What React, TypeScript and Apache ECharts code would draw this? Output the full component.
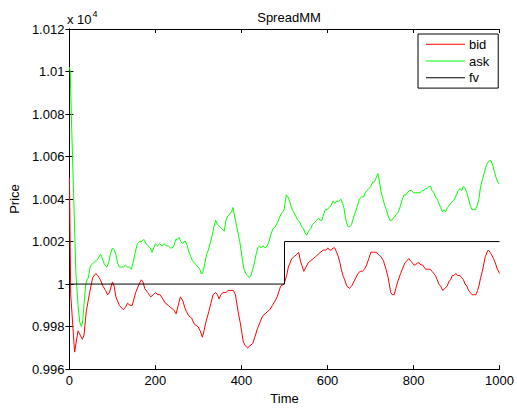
import React, { useEffect, useRef } from "react";
import * as echarts from "echarts";

// Values are prices (the axis shows them scaled by 10^4)
const bidTime = [0, 3, 12, 20, 25, 30, 34, 39, 47, 54, 61, 66, 72, 78, 84, 89, 93, 100, 104, 108, 116, 125, 130, 135, 141, 146, 154, 162, 167, 171, 175, 182, 189, 195, 200, 206, 211, 217, 223, 230, 235, 242, 248, 253, 258, 264, 268, 272, 278, 284, 291, 299, 304, 309, 313, 317, 324, 329, 334, 340, 344, 348, 352, 357, 364, 369, 374, 381, 386, 389, 393, 397, 401, 404, 409, 414, 420, 426, 431, 437, 443, 449, 455, 460, 466, 472, 478, 483, 491, 499, 505, 509, 517, 523, 529, 533, 537, 540, 545, 550, 555, 561, 567, 573, 578, 584, 590, 596, 601, 605, 609, 613, 617, 621, 625, 629, 632, 636, 640, 645, 651, 656, 661, 666, 671, 676, 681, 686, 691, 696, 701, 707, 713, 718, 724, 730, 736, 741, 747, 751, 755, 759, 763, 770, 776, 780, 785, 789, 793, 797, 801, 805, 809, 813, 817, 821, 828, 834, 839, 843, 847, 851, 855, 859, 863, 868, 873, 878, 882, 886, 890, 894, 898, 903, 908, 912, 916, 920, 924, 928, 932, 936, 940, 945, 949, 952, 956, 960, 964, 967, 971, 974, 978, 981, 986, 990, 995, 1000];
const bidPrice = [10050, 9995, 9968, 9978, 9976, 9974, 9976, 9987, 9996, 10003, 10005, 10004, 10002, 9999, 9997, 9995, 9996, 10001, 9999, 9994, 9990, 9988, 9989, 9991, 9990, 9990, 9996, 10000, 10002, 10001, 9998, 9996, 9994, 9995, 9996, 9995, 9995, 9993, 9991, 9990, 9989, 9988, 9986, 9990, 9994, 9992, 9989, 9987, 9985, 9984, 9981, 9980, 9978, 9975, 9978, 9982, 9987, 9991, 9995, 9996, 9995, 9993, 9995, 9996, 9996, 9997, 9997, 9997, 9995, 9991, 9986, 9982, 9977, 9973, 9971, 9970, 9971, 9972, 9975, 9979, 9982, 9985, 9986, 9987, 9988, 9990, 9992, 9994, 9999, 10000, 10004, 10008, 10012, 10013, 10014, 10015, 10011, 10009, 10006, 10008, 10010, 10011, 10012, 10013, 10014, 10015, 10016, 10016, 10017, 10016, 10016, 10017, 10017, 10015, 10013, 10010, 10007, 10004, 10002, 9999, 9998, 9999, 10001, 10003, 10005, 10006, 10006, 10007, 10009, 10012, 10015, 10015, 10015, 10014, 10013, 10011, 10007, 10003, 9996, 9995, 9995, 9998, 10001, 10005, 10008, 10010, 10011, 10012, 10011, 10010, 10009, 10009, 10010, 10010, 10009, 10009, 10007, 10007, 10007, 10006, 10005, 10004, 10002, 10000, 9999, 9997, 9998, 9999, 10001, 10002, 10004, 10004, 10005, 10004, 10004, 10003, 10002, 10000, 9999, 9997, 9996, 9995, 9995, 9995, 9997, 9999, 10003, 10006, 10010, 10013, 10015, 10016, 10015, 10014, 10012, 10010, 10007, 10005];

const askTime = [0, 2, 5, 10, 15, 20, 24, 28, 31, 35, 38, 41, 44, 48, 51, 56, 62, 67, 72, 75, 78, 82, 87, 91, 95, 100, 104, 108, 112, 116, 121, 126, 130, 135, 140, 144, 148, 153, 158, 163, 168, 173, 178, 183, 188, 192, 196, 200, 205, 210, 215, 220, 225, 230, 235, 239, 243, 247, 251, 255, 259, 263, 266, 270, 274, 278, 282, 286, 290, 295, 299, 303, 306, 309, 312, 315, 319, 323, 327, 332, 336, 340, 344, 349, 354, 360, 364, 368, 373, 377, 380, 384, 388, 392, 396, 399, 403, 406, 410, 414, 418, 422, 426, 430, 434, 438, 442, 446, 450, 455, 460, 464, 468, 473, 479, 484, 488, 492, 496, 499, 502, 504, 508, 512, 516, 521, 526, 531, 536, 540, 544, 548, 552, 556, 561, 565, 570, 575, 579, 583, 587, 591, 595, 599, 604, 608, 613, 617, 621, 626, 631, 635, 638, 641, 644, 648, 652, 656, 660, 665, 670, 674, 679, 684, 688, 692, 696, 701, 705, 709, 713, 717, 720, 724, 729, 733, 737, 741, 745, 749, 753, 757, 761, 765, 770, 774, 778, 782, 786, 790, 795, 800, 805, 810, 815, 820, 824, 828, 832, 836, 840, 843, 847, 851, 855, 859, 863, 867, 871, 875, 879, 883, 887, 891, 895, 900, 904, 908, 912, 916, 920, 924, 928, 932, 936, 940, 944, 948, 952, 956, 960, 964, 968, 972, 976, 980, 984, 988, 992, 996, 1000];
const askPrice = [10102, 10100, 10075, 10040, 10005, 9990, 9982, 9980, 9983, 9993, 10000, 10002, 10003, 10008, 10009, 10010, 10011, 10012, 10014, 10013, 10011, 10009, 10008, 10010, 10014, 10017, 10016, 10014, 10010, 10008, 10008, 10008, 10009, 10008, 10008, 10007, 10010, 10015, 10019, 10020, 10020, 10021, 10019, 10018, 10017, 10015, 10017, 10019, 10018, 10019, 10018, 10019, 10018, 10018, 10017, 10017, 10018, 10021, 10021, 10022, 10020, 10019, 10020, 10020, 10018, 10015, 10013, 10011, 10010, 10009, 10008, 10007, 10005, 10005, 10007, 10010, 10014, 10016, 10019, 10023, 10027, 10030, 10028, 10027, 10026, 10025, 10030, 10032, 10033, 10034, 10036, 10032, 10028, 10024, 10020, 10016, 10010, 10007, 10005, 10004, 10003, 10004, 10007, 10010, 10014, 10017, 10018, 10017, 10018, 10017, 10018, 10020, 10023, 10026, 10027, 10029, 10031, 10033, 10034, 10035, 10039, 10042, 10041, 10039, 10036, 10034, 10032, 10030, 10029, 10027, 10026, 10024, 10023, 10025, 10026, 10028, 10029, 10030, 10031, 10030, 10030, 10033, 10035, 10035, 10036, 10037, 10039, 10038, 10039, 10039, 10040, 10038, 10036, 10032, 10029, 10027, 10027, 10028, 10031, 10034, 10037, 10040, 10041, 10041, 10043, 10044, 10045, 10046, 10048, 10048, 10050, 10052, 10049, 10044, 10040, 10037, 10035, 10032, 10030, 10030, 10031, 10032, 10033, 10034, 10037, 10040, 10042, 10042, 10043, 10044, 10044, 10043, 10043, 10043, 10043, 10044, 10044, 10045, 10045, 10046, 10046, 10044, 10043, 10041, 10040, 10038, 10036, 10034, 10035, 10034, 10036, 10037, 10038, 10039, 10040, 10042, 10044, 10045, 10044, 10046, 10045, 10043, 10040, 10037, 10035, 10035, 10035, 10037, 10040, 10046, 10049, 10052, 10055, 10057, 10058, 10058, 10056, 10053, 10050, 10048, 10047];

const fvTime = [0, 500, 500, 1000];
const fvPrice = [10000, 10000, 10020, 10020];

const seriesNames = ["bid", "ask", "fv"];
const seriesColors = ["#ff0000", "#00ff00", "#000000"];

const xMin = 0;
const xMax = 1000;
const xStep = 200;
const yMin = 9960;
const yMax = 10120;
const yStep = 20;
const yScale = 10000;

const FONT = "'Liberation Sans', Arial, Helvetica, sans-serif";

function pairs(t: number[], v: number[]) {
  return t.map((x, i) => [x, v[i]]);
}

export default function App() {
  const ref = useRef<HTMLDivElement>(null);

  useEffect(() => {
    document.body.style.margin = "0";
    if (!ref.current) return;
    const chart = echarts.init(ref.current, undefined, { renderer: "svg" });

    const axisLine = { show: true, lineStyle: { color: "#000", width: 1 } };
    const axisTick = { show: true, inside: true, length: 4, lineStyle: { color: "#000", width: 1 } };
    const labelStyle = { color: "#000", fontSize: 13, fontFamily: FONT };

    const datasets = [pairs(bidTime, bidPrice), pairs(askTime, askPrice), pairs(fvTime, fvPrice)];

    chart.setOption({
      animation: false,
      backgroundColor: "#fff",
      title: {
        text: "SpreadMM",
        left: 284,
        top: 6,
        textAlign: "center",
        textStyle: { fontSize: 13, fontWeight: "normal", color: "#000", fontFamily: FONT },
      },
      grid: { left: 67, right: 15.5, top: 29, bottom: 39.5, containLabel: false },
      legend: {
        orient: "vertical",
        left: 418,
        top: 34,
        data: seriesNames.map((n) => ({ name: n, icon: "rect" })),
        itemWidth: 39,
        itemHeight: 1,
        itemGap: 0,
        padding: [2, 9, 2, 8],
        borderColor: "#000",
        borderWidth: 1,
        backgroundColor: "#fff",
        selectedMode: false,
        textStyle: { fontSize: 13, color: "#000", fontFamily: FONT, lineHeight: 16.7, padding: [0, 0, 0, -1] },
      },
      graphic: [
        {
          type: "text",
          left: 67,
          top: 9,
          style: {
            text: "{a|x 10}{b|4}",
            rich: {
              a: { fontSize: 13, fontFamily: FONT, fill: "#000", verticalAlign: "bottom" },
              b: { fontSize: 9, fontFamily: FONT, fill: "#000", verticalAlign: "top", padding: [0, 0, 8, 1] },
            },
          },
        },
      ],
      xAxis: [
        {
          type: "value",
          min: xMin,
          max: xMax,
          interval: xStep,
          position: "bottom",
          name: "Time",
          nameLocation: "middle",
          nameGap: 21,
          nameTextStyle: labelStyle,
          axisLine,
          axisTick,
          axisLabel: { ...labelStyle, margin: 5, formatter: (v: number) => String(v) },
          splitLine: { show: false },
        },
        {
          type: "value",
          min: xMin,
          max: xMax,
          interval: xStep,
          position: "top",
          axisLine,
          axisTick,
          axisLabel: { show: false },
          splitLine: { show: false },
        },
      ],
      yAxis: [
        {
          type: "value",
          min: yMin,
          max: yMax,
          interval: yStep,
          position: "left",
          name: "Price",
          nameLocation: "middle",
          nameGap: 45,
          nameTextStyle: labelStyle,
          axisLine,
          axisTick,
          axisLabel: {
            ...labelStyle,
            margin: 5,
            formatter: (v: number) => String(Number((v / yScale).toFixed(3))),
          },
          splitLine: { show: false },
        },
        {
          type: "value",
          min: yMin,
          max: yMax,
          interval: yStep,
          position: "right",
          axisLine,
          axisTick,
          axisLabel: { show: false },
          splitLine: { show: false },
        },
      ],
      series: seriesNames.map((name, i) => ({
        name,
        type: "line",
        data: datasets[i],
        xAxisIndex: 0,
        yAxisIndex: 0,
        showSymbol: false,
        symbol: "none",
        color: seriesColors[i],
        lineStyle: { color: seriesColors[i], width: 1 },
        emphasis: { disabled: true },
        clip: true,
      })),
    });

    return () => chart.dispose();
  }, []);

  return <div ref={ref} style={{ width: 517, height: 410 }} />;
}
